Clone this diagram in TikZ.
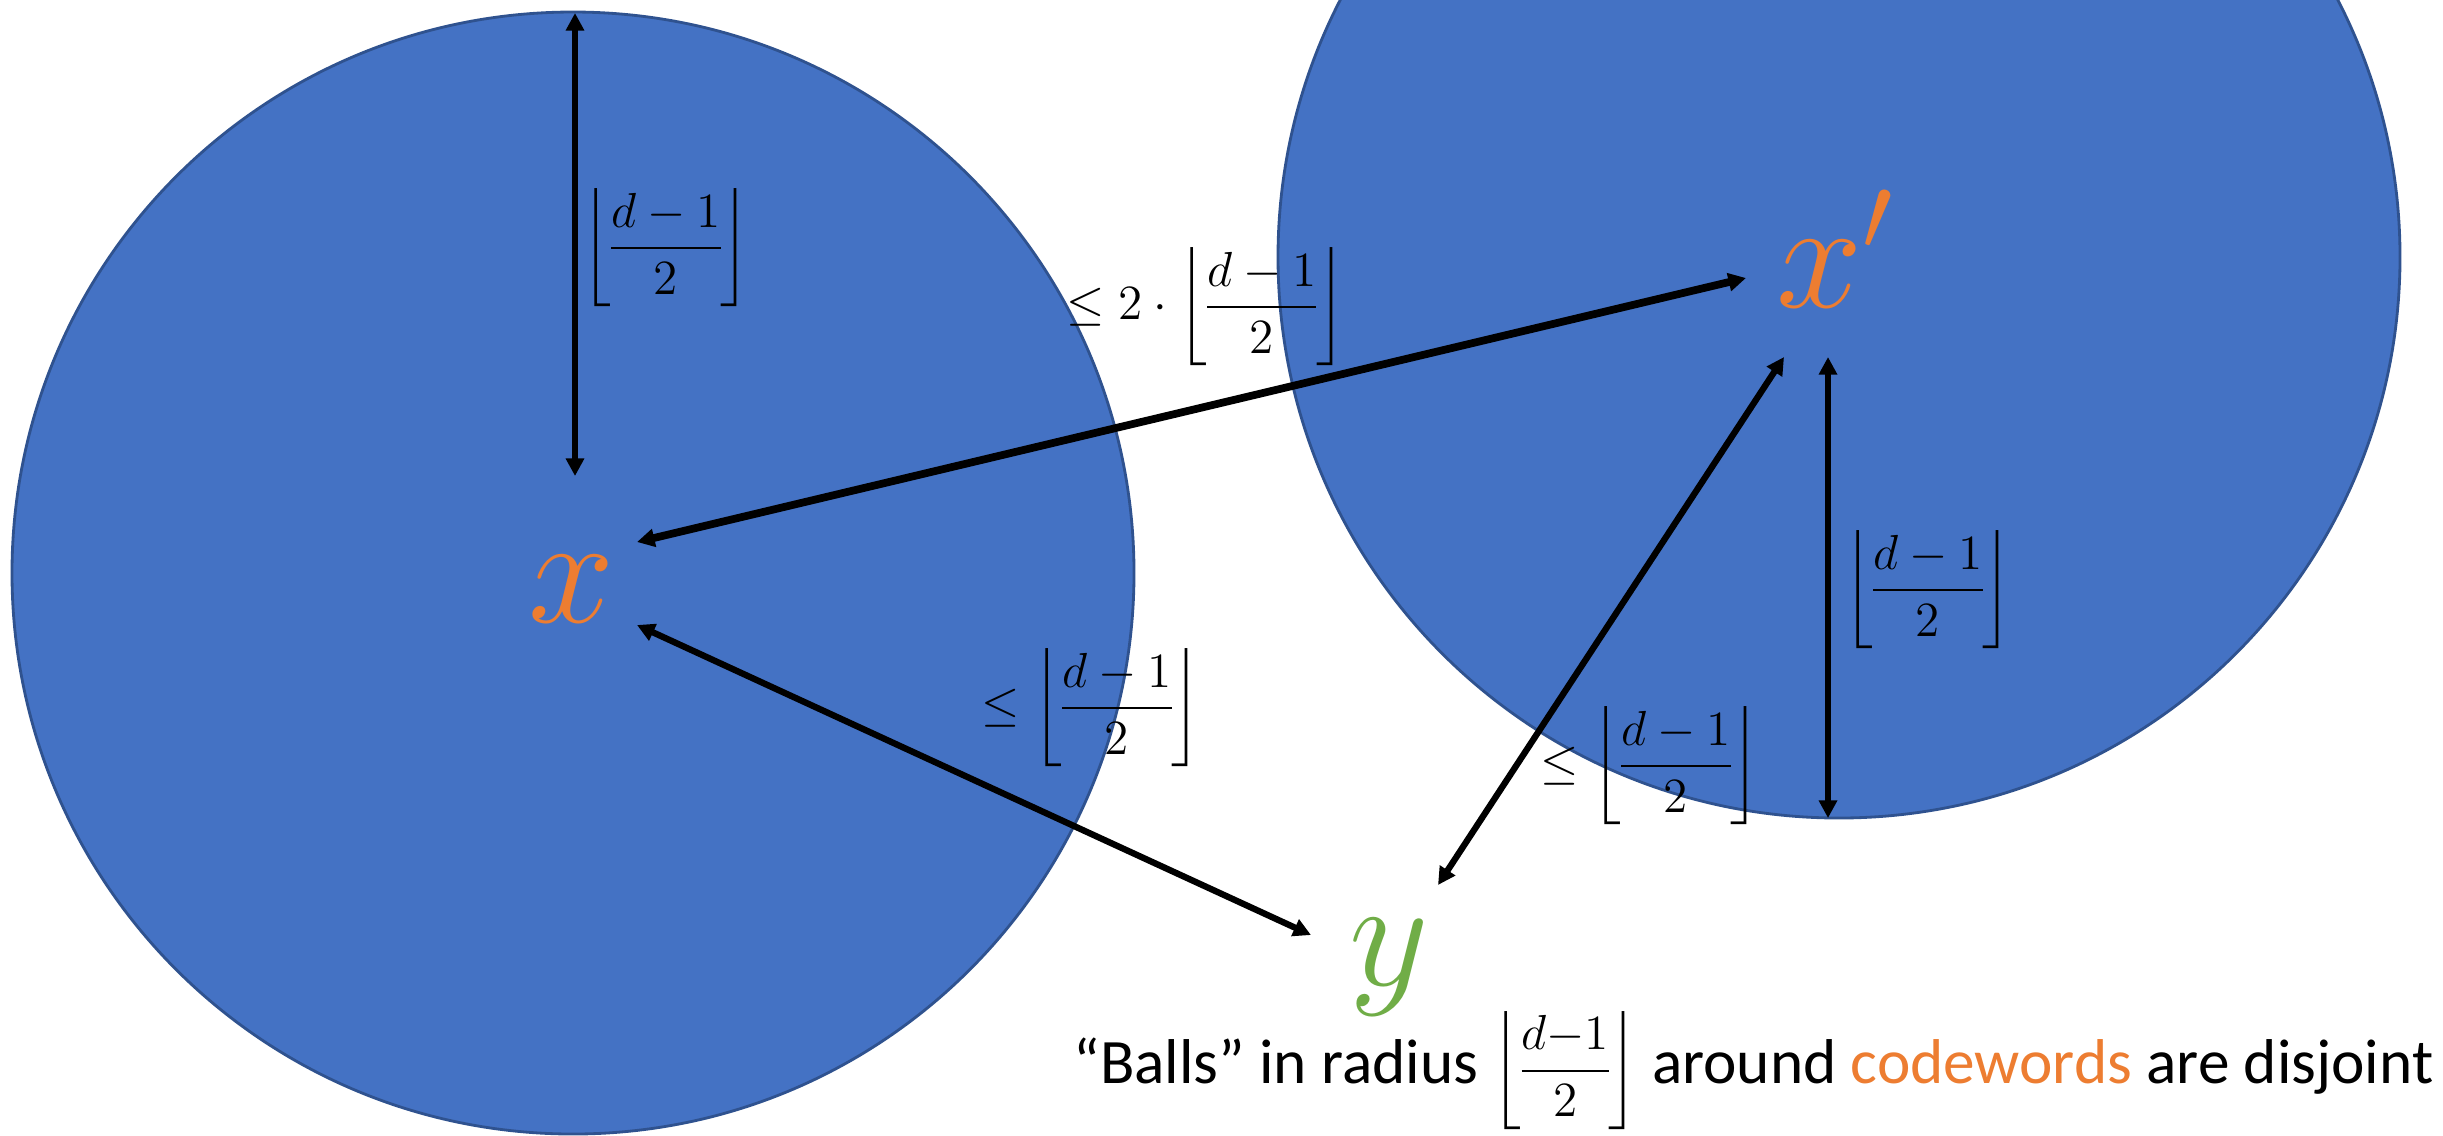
\RequirePackage{fix-cm}
\documentclass[tikz,border=0pt]{standalone}
\usepackage{amsmath,amssymb}
\usepackage[no-math]{fontspec}
\setmainfont{Carlito}
\usetikzlibrary{arrows.meta}
\definecolor{cwblue}{HTML}{4472C4}
\definecolor{cwedge}{HTML}{2F528F}
\definecolor{cworange}{HTML}{ED7D31}
\definecolor{cwgreen}{HTML}{70AD47}
\newcommand{\halfdist}{\left\lfloor\dfrac{d-1}{2}\right\rfloor}
\nulldelimiterspace=0pt

\begin{document}
\begin{tikzpicture}[x=0.01cm,y=-0.01cm,
    ball/.style={fill=cwblue,draw=cwedge,line width=0.8pt},
    dim/.style={{Triangle[length=5pt,width=5pt]}-{Triangle[length=5pt,width=5pt]},line width=1.8pt},
    lab/.style={font=\fontsize{14}{16}\selectfont,inner sep=0pt},
    word/.style={font=\fontsize{44}{50}\selectfont,inner sep=0pt,anchor=base}]
  \useasboundingbox (0,0) rectangle (2443,1135);
  \clip (0,0) rectangle (2443,1135);
  \fill[white] (0,0) rectangle (2443,1135);
  % the two balls
  \draw[ball] (573,573) circle[radius=561];
  \draw[ball] (1839,257) circle[radius=561];
  % codewords and received word
  \node[word,text=cworange] (x) at (572,622) {$x$};
  \node[word,text=cworange] (xp) at (1835,307) {$x'$};
  \node[word,text=cwgreen] (y) at (1389,985) {$y$};
  % arrow ends
  \coordinate (ltop) at (575,13);
  \coordinate (lbot) at (575,476);
  \coordinate (rtop) at (1828,357);
  \coordinate (rbot) at (1828,818);
  \coordinate (xup) at (637,542);
  \coordinate (xdn) at (637,625);
  \coordinate (xpl) at (1746,278);
  \coordinate (xpd) at (1784,357);
  \coordinate (yl) at (1311,935);
  \coordinate (yr) at (1438,885);
  \draw[dim] (ltop) -- (lbot);
  \draw[dim] (rtop) -- (rbot);
  \draw[dim,line width=2.2pt] (xpl) -- (xup);
  \draw[dim] (xdn) -- (yl);
  \draw[dim] (xpd) -- (yr);
  % distance labels
  \node[lab] (lrad) at (666,248) {$\halfdist$};
  \node[lab] (rrad) at (1928,590) {$\halfdist$};
  \node[lab] (dxx) at (1206,307) {$\leq 2\cdot\halfdist$};
  \node[lab] (dxy) at (1091,708) {$\leq\halfdist$};
  \node[lab] (dxpy) at (1650,766) {$\leq\halfdist$};
  % caption
  \node[font=\fontsize{18}{22}\selectfont,inner sep=0pt,anchor=base east] (note) at (2434,1083)
    {“Balls” in radius {\fontsize{14}{16}\selectfont$\left\lfloor\dfrac{d{-}1}{2}\right\rfloor$} around \textcolor{cworange}{codewords} are disjoint};
\end{tikzpicture}
\end{document}
